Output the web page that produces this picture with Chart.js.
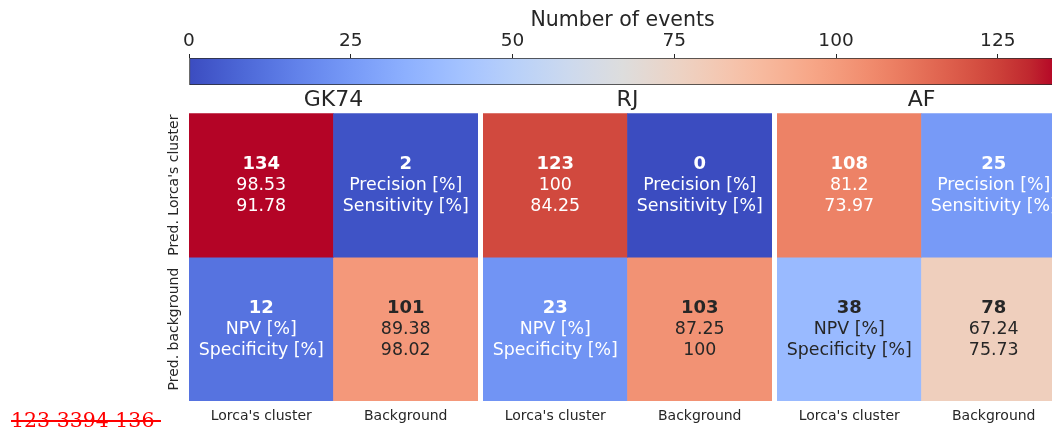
<!DOCTYPE html>
<html>
<head>
<meta charset="utf-8">
<script src="https://cdn.jsdelivr.net/npm/chart.js@4.4.1/dist/chart.umd.min.js"></script>
<style>
  html, body { margin:0; padding:0; width:1052px; height:429px; overflow:hidden; background:#ffffff; }
  canvas { position:absolute; display:block; }
  #note { position:absolute; left:11px; top:408px; font-family:'DejaVu Serif'; font-size:20.5px; color:#ff0000;
          text-decoration:line-through; white-space:pre; line-height:normal; }
</style>
</head>
<body>
<canvas id="cb" width="926" height="90" style="left:150px;top:0px;width:926px;height:90px"></canvas>
<canvas id="p0" width="328" height="341" style="left:150px;top:88px;width:328px;height:341px"></canvas>
<canvas id="p1" width="289" height="341" style="left:483px;top:88px;width:289px;height:341px"></canvas>
<canvas id="p2" width="289" height="341" style="left:777px;top:88px;width:289px;height:341px"></canvas>
<div id="note">123 3394 136 </div>
<script>
// ---- data ----
const panels = ['GK74', 'RJ', 'AF'];
const colLabels = ["Lorca's cluster", 'Background'];
const rowLabels = ["Pred. Lorca's cluster", 'Pred. background'];
const truePos = [134, 123, 108];   // Pred. Lorca's cluster / Lorca's cluster
const falsePos = [2, 0, 25];       // Pred. Lorca's cluster / Background
const falseNeg = [12, 23, 38];     // Pred. background / Lorca's cluster
const trueNeg = [101, 103, 78];    // Pred. background / Background
const precision = ['98.53', '100', '81.2'];
const sensitivity = ['91.78', '84.25', '73.97'];
const npv = ['89.38', '87.25', '67.24'];
const specificity = ['98.02', '100', '75.73'];
const cbTitle = 'Number of events';
const cbMin = 0;
const cbMax = 134;
const cbTicks = [0, 25, 50, 75, 100, 125];

// ---- coolwarm colormap ----
const CW = [[59,76,192],[68,90,204],[77,104,215],[87,117,225],[98,130,234],[108,142,241],[119,154,247],[130,165,251],
  [141,176,254],[152,185,255],[163,194,255],[174,201,253],[184,208,249],[194,213,244],[204,217,238],[213,219,230],
  [221,221,221],[229,216,209],[236,211,197],[241,204,185],[245,196,173],[247,187,160],[247,177,148],[247,166,135],
  [244,154,123],[241,141,111],[236,127,99],[229,112,88],[222,96,77],[213,80,66],[203,62,56],[192,40,47],[180,4,38]];
function coolwarm(v) {
  let t = (v - cbMin) / (cbMax - cbMin);
  t = Math.max(0, Math.min(1, t));
  const p = t * 32, i = Math.min(31, Math.floor(p)), f = p - i;
  return [0,1,2].map(k => Math.round(CW[i][k] + (CW[i+1][k] - CW[i][k]) * f));
}
const rgb = c => `rgb(${c[0]},${c[1]},${c[2]})`;
function textColorFor(v) {
  const c = coolwarm(v).map(x => { x /= 255; return x <= 0.03928 ? x / 12.92 : Math.pow((x + 0.055) / 1.055, 2.4); });
  const lum = 0.2126 * c[0] + 0.7152 * c[1] + 0.0722 * c[2];
  return lum > 0.40 ? '#262626' : '#ffffff';
}
const FONT = 'DejaVu Sans';
const DARK = '#262626';

function matrix(p) { return [[truePos[p], falsePos[p]], [falseNeg[p], trueNeg[p]]]; }
function cellLines(p, r, c) {
  const m = matrix(p);
  if (r === 0 && c === 0) return [String(m[0][0]), precision[p], sensitivity[p]];
  if (r === 0 && c === 1) return [String(m[0][1]), 'Precision [%]', 'Sensitivity [%]'];
  if (r === 1 && c === 0) return [String(m[1][0]), 'NPV [%]', 'Specificity [%]'];
  return [String(m[1][1]), npv[p], specificity[p]];
}

const cellText = {
  id: 'cellText',
  afterDatasetsDraw(chart, args, opts) {
    const ctx = chart.ctx, p = opts.panel, m = matrix(p);
    ctx.save();
    ctx.textAlign = 'center';
    ctx.textBaseline = 'alphabetic';
    chart.data.datasets.forEach((ds, r) => {
      chart.getDatasetMeta(r).data.forEach((el, c) => {
        const cx = el.x, cy = (el.y + el.base) / 2;
        const lines = cellLines(p, r, c);
        ctx.fillStyle = textColorFor(m[r][c]);
        ctx.font = `bold 18px "${FONT}"`;
        ctx.fillText(lines[0], cx, cy - 16.5);
        ctx.font = `17.4px "${FONT}"`;
        ctx.fillText(lines[1], cx, cy + 5);
        ctx.fillText(lines[2], cx, cy + 26.3);
      });
    });
    ctx.restore();
  }
};

const rowText = {
  id: 'rowText',
  afterDraw(chart, args, opts) {
    if (!opts.show) return;
    const ctx = chart.ctx, y = chart.scales.y;
    ctx.save();
    ctx.fillStyle = DARK;
    ctx.font = `14px "${FONT}"`;
    ctx.textAlign = 'center';
    ctx.textBaseline = 'alphabetic';
    rowLabels.forEach((lab, r) => {
      ctx.save();
      ctx.translate(chart.chartArea.left - 11, y.getPixelForValue(r + 0.5));
      ctx.rotate(-Math.PI / 2);
      ctx.fillText(lab, 0, 0);
      ctx.restore();
    });
    ctx.restore();
  }
};

panels.forEach((name, p) => {
  const m = matrix(p);
  new Chart(document.getElementById('p' + p), {
    type: 'bar',
    data: {
      labels: colLabels,
      datasets: rowLabels.map((rl, r) => ({
        label: rl,
        data: colLabels.map(() => 1),
        backgroundColor: colLabels.map((_, c) => rgb(coolwarm(m[r][c]))),
        borderWidth: 0,
        barPercentage: 1,
        categoryPercentage: 1
      }))
    },
    options: {
      responsive: false,
      animation: false,
      events: [],
      layout: { padding: { left: p === 0 ? 39 : 0, right: 0, top: 0, bottom: 0 } },
      scales: {
        x: {
          stacked: true,
          grid: { display: false, drawTicks: false },
          border: { display: false },
          ticks: { color: DARK, font: { family: FONT, size: 14 }, padding: 7, maxRotation: 0, minRotation: 0 },
          afterFit: s => { s.height = 28; }
        },
        y: { stacked: true, display: false, min: 0, max: 2, reverse: true }
      },
      plugins: {
        legend: { display: false },
        tooltip: { enabled: false },
        title: { display: true, text: name, color: DARK, font: { family: FONT, size: 22, weight: 'normal', lineHeight: 1.1 }, padding: { top: 0, bottom: 1 } },
        cellText: { panel: p },
        rowText: { show: p === 0 }
      }
    },
    plugins: [cellText, rowText]
  });
});

// ---- colorbar ----
new Chart(document.getElementById('cb'), {
  type: 'bar',
  data: {
    labels: [''],
    datasets: [{
      data: [[cbMin, cbMax]],
      backgroundColor: (ctx) => {
        const chart = ctx.chart;
        if (!chart.chartArea) return rgb(CW[16]);
        const x = chart.scales.x;
        const g = chart.ctx.createLinearGradient(x.getPixelForValue(cbMin), 0, x.getPixelForValue(cbMax), 0);
        CW.forEach((c, i) => g.addColorStop(i / 32, rgb(c)));
        return g;
      },
      borderColor: '#2b2b2b',
      borderWidth: 1,
      borderSkipped: false,
      barPercentage: 1,
      categoryPercentage: 1
    }]
  },
  options: {
    indexAxis: 'y',
    responsive: false,
    animation: false,
    events: [],
    layout: { padding: { left: 39, right: 20, top: 0, bottom: 5 } },
    scales: {
      x: {
        type: 'linear', position: 'top', min: cbMin, max: cbMax,
        afterBuildTicks: a => { a.ticks = cbTicks.map(v => ({ value: v })); },
        ticks: { color: DARK, font: { family: FONT, size: 18.5 }, padding: 1.5, maxRotation: 0 },
        grid: { display: true, drawOnChartArea: false, drawTicks: true, tickLength: 4, color: DARK },
        border: { display: false },
        title: { display: true, text: cbTitle, color: DARK, font: { family: FONT, size: 20.5 }, padding: { top: 8.5, bottom: 0 } },
        afterFit: s => { s.height = 58; }
      },
      y: { display: false }
    },
    plugins: { legend: { display: false }, tooltip: { enabled: false } }
  }
});
</script>
</body>
</html>
